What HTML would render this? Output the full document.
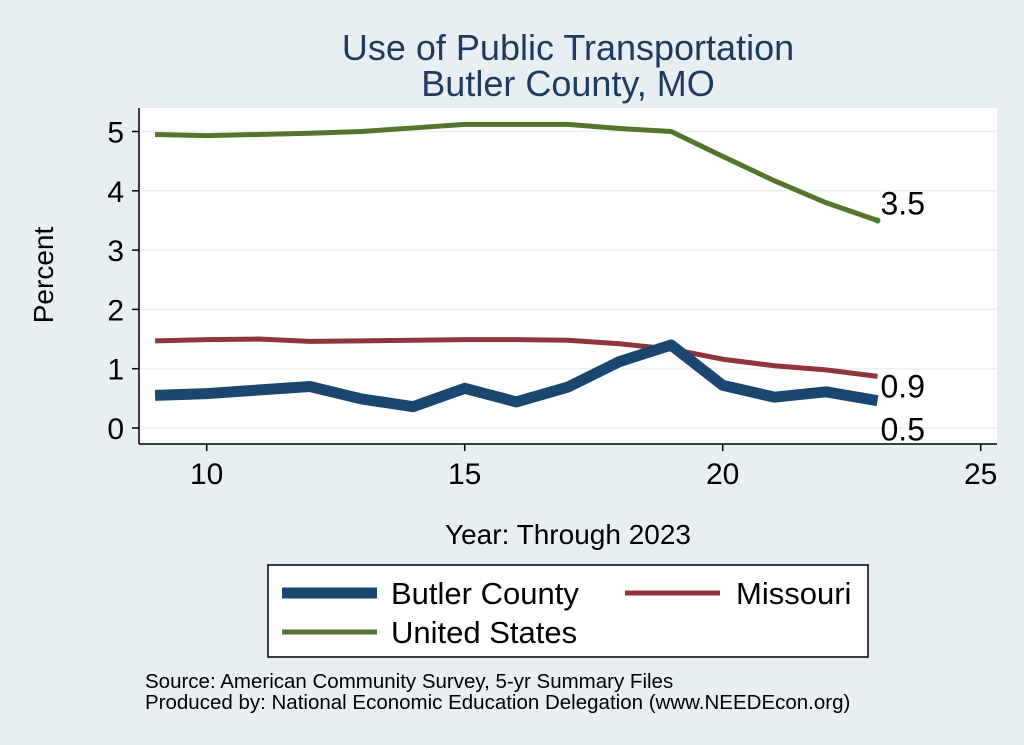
<!DOCTYPE html>
<html><head><meta charset="utf-8"><style>
body{margin:0;background:#e8eff2;}
svg{display:block;font-family:"Liberation Sans",sans-serif;}
</style></head><body>
<svg id="c" width="1024" height="745" viewBox="0 0 1024 745">
<rect x="0" y="0" width="1024" height="745" fill="#e8eff2"/>
<text x="568" y="60" font-size="36" fill="#1e3a5f" text-anchor="middle">Use of Public Transportation</text>
<text x="568" y="96" font-size="36" fill="#1e3a5f" text-anchor="middle">Butler County, MO</text>
<rect x="139" y="108" width="858" height="336" fill="#fff"/>
<g id="grid"></g><g id="axes"></g><g id="series"></g>
<text transform="translate(53,275) rotate(-90)" font-size="28" text-anchor="middle" fill="#000">Percent</text>
<text x="568" y="544" font-size="28" text-anchor="middle" fill="#000">Year: Through 2023</text>
<g>
<rect x="268" y="565" width="600" height="92" fill="#fff" stroke="#000" stroke-width="1.5"/>
<line x1="282" y1="593" x2="377" y2="593" stroke="#1a476f" stroke-width="11"/>
<text x="391" y="604" font-size="31">Butler County</text>
<line x1="625" y1="593" x2="720" y2="593" stroke="#90353b" stroke-width="5"/>
<text x="736" y="604" font-size="31">Missouri</text>
<line x1="282" y1="632" x2="377" y2="632" stroke="#55752f" stroke-width="5"/>
<text x="391" y="643" font-size="31">United States</text>
</g>
<text x="145" y="688" font-size="20.5">Source: American Community Survey, 5-yr Summary Files</text>
<text x="145" y="709" font-size="20.5">Produced by: National Economic Education Delegation (www.NEEDEcon.org)</text>
</svg>
<script>
const years=[9,10,11,12,13,14,15,16,17,18,19,20,21,22,23];
const usVals=[4.95,4.93,4.95,4.97,5.0,5.06,5.12,5.12,5.12,5.05,5.0,4.58,4.17,3.8,3.5];
const moVals=[1.47,1.49,1.5,1.46,1.47,1.48,1.49,1.49,1.48,1.42,1.33,1.16,1.05,0.98,0.87];
const butlerVals=[0.55,0.58,0.64,0.7,0.49,0.36,0.67,0.44,0.69,1.12,1.4,0.72,0.52,0.61,0.46];
const xTicks=[10,15,20,25];
const yTicks=[0,1,2,3,4,5];
const NS="http://www.w3.org/2000/svg";
function X(v){return 206.7+(v-10)*51.6;}
function Y(v){return 428-v*59.3;}
function mk(t,a,p){const e=document.createElementNS(NS,t);for(const k in a)e.setAttribute(k,a[k]);p.appendChild(e);return e;}
const grid=document.getElementById('grid'),axes=document.getElementById('axes'),ser=document.getElementById('series');
yTicks.forEach(v=>{
 const g=mk('line',{x1:139,x2:997,y1:Y(v),y2:Y(v),stroke:'#eaf0f3','stroke-width':1.5},grid);
 
 
 const t=mk('line',{x1:132,x2:139,y1:Y(v),y2:Y(v),stroke:'#000','stroke-width':1.5},axes);
 
 
 const l=mk('text',{x:124,y:Y(v)+11,'font-size':30,'text-anchor':'end'},axes);l.textContent=v;
 
 
});
xTicks.forEach(v=>{
 const t=mk('line',{x1:X(v),x2:X(v),y1:444,y2:451,stroke:'#000','stroke-width':1.5},axes);
 
 
 const l=mk('text',{x:X(v),y:484,'font-size':30,'text-anchor':'middle'},axes);l.textContent=v;
 
 
});
const ya=mk('line',{x1:139,x2:139,y1:108,y2:444,stroke:'#000','stroke-width':1.5},axes);


const xa=mk('line',{x1:139,x2:997,y1:444,y2:444,stroke:'#000','stroke-width':1.5},axes);


function line(vals,color,w,name,labelDy){
 const p=mk('polyline',{points:vals.map((v,i)=>X(years[i])+','+Y(v)).join(' '),fill:'none',stroke:color,'stroke-width':w,'stroke-linejoin':'round'},ser);
 
 
 const last=vals[vals.length-1];
 const t=mk('text',{x:X(years[years.length-1])+3,y:Y(last)+labelDy,'font-size':32},ser);
 t.textContent=last.toFixed(1);
 
 
}
line(usVals,'#55752f',5,'us-line',-6);
line(moVals,'#90353b',5,'missouri-line',21);
line(butlerVals,'#1a476f',11,'butler-line',40);
const dot=mk('circle',{cx:X(years[years.length-1]),cy:Y(usVals[usVals.length-1]),r:3,fill:'#2e8b1e'},ser);


</script>
</body></html>
